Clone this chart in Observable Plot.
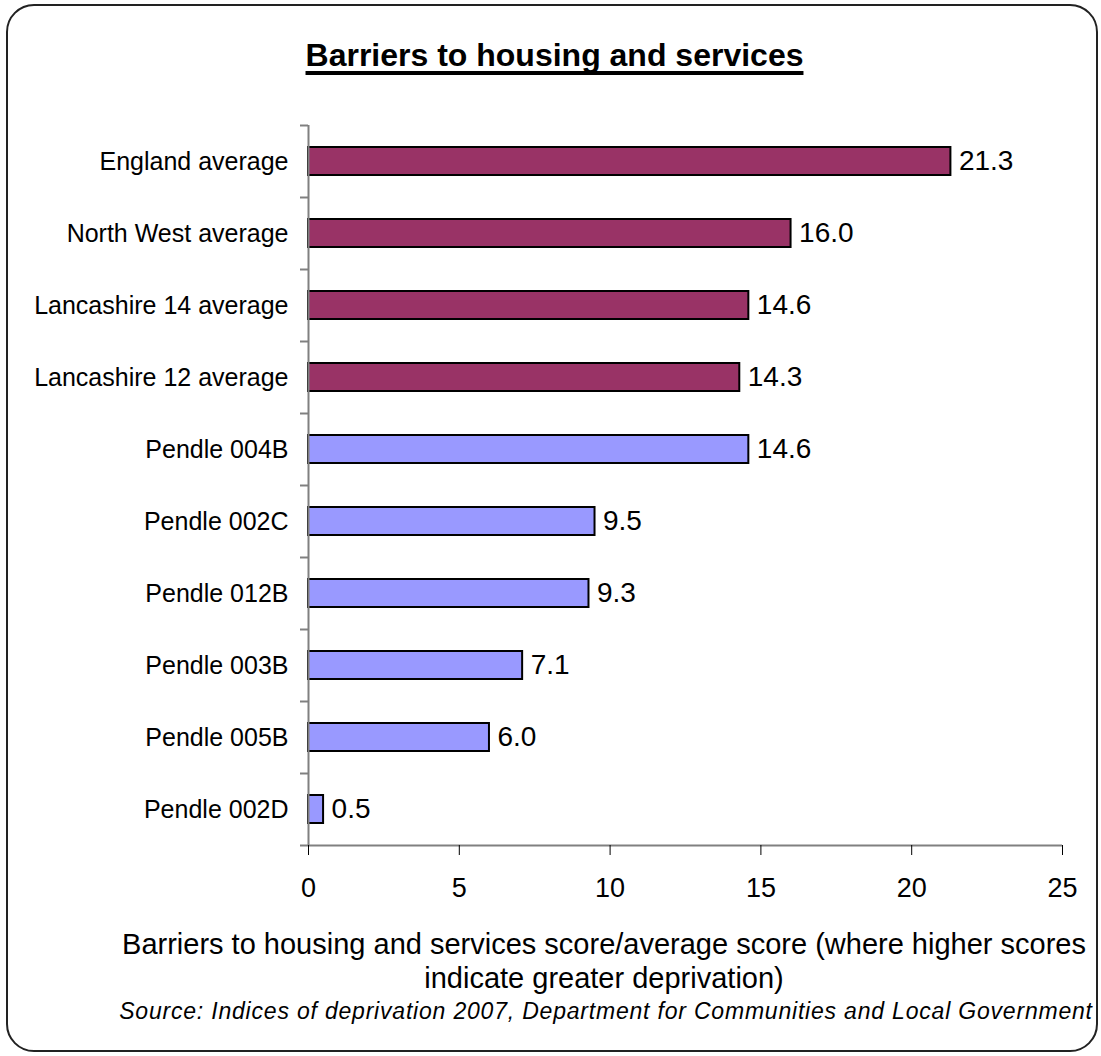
<!DOCTYPE html>
<html>
<head>
<meta charset="utf-8">
<script src="https://cdn.jsdelivr.net/npm/d3@7"></script>
<script src="https://cdn.jsdelivr.net/npm/@observablehq/plot@0.6"></script>
<style>
  html, body { margin: 0; padding: 0; background: #fff; }
  #wrap { position: relative; width: 1101px; height: 1056px; overflow: hidden; font-family: "Liberation Sans", Arial, sans-serif; color: #000; }
  #border { position: absolute; left: 6px; top: 4px; width: 1092px; height: 1048px; box-sizing: border-box; border: 2px solid #222; border-radius: 28px; }
  #title { position: absolute; left: 4px; width: 1101px; top: 39px; text-align: center; font-size: 32px; line-height: 32px; font-weight: bold; text-decoration: underline; text-decoration-thickness: 3.5px; text-underline-offset: 5px; text-decoration-skip-ink: none; }
  #chart { position: absolute; left: 0; top: 0; }
  #xlabel { position: absolute; left: 54px; width: 1100px; top: 927px; text-align: center; font-size: 29px; line-height: 34px; }
  #source { position: absolute; left: 56px; width: 1100px; top: 999px; text-align: center; font-size: 23px; line-height: 24px; font-style: italic; letter-spacing: 0.8px; }
</style>
</head>
<body>
<div id="wrap">
  <div id="border"></div>
  <div id="title">Barriers to housing and services</div>
  <div id="chart"></div>
  <div id="xlabel">Barriers to housing and services score/average score (where higher scores<br>indicate greater deprivation)</div>
  <div id="source">Source: Indices of deprivation 2007, Department for Communities and Local Government</div>
</div>
<script>
const categories = ["England average", "North West average", "Lancashire 14 average", "Lancashire 12 average", "Pendle 004B", "Pendle 002C", "Pendle 012B", "Pendle 003B", "Pendle 005B", "Pendle 002D"];
const values = [21.3, 16.0, 14.6, 14.3, 14.6, 9.5, 9.3, 7.1, 6.0, 0.5];
const groups = ["average", "average", "average", "average", "area", "area", "area", "area", "area", "area"];
const xTicks = [0, 5, 10, 15, 20, 25];

const data = categories.map((c, i) => ({category: c, value: values[i], group: groups[i]}));

const W = 1101, H = 910, mT = 125, mB = 65, mL = 308, mR = 39;
const step = (H - mT - mB) / categories.length;

const chart = Plot.plot({
  width: W,
  height: H,
  marginTop: mT,
  marginBottom: mB,
  marginLeft: mL,
  marginRight: mR,
  style: {fontFamily: "'Liberation Sans', Arial, sans-serif", color: "#000", background: "transparent"},
  x: {domain: [0, 25]},
  y: {domain: categories, paddingInner: 0.61, paddingOuter: 0.305},
  color: {domain: ["average", "area"], range: ["#993366", "#9999FF"]},
  marks: [
    Plot.barX(data, {x: "value", y: "category", fill: "group", stroke: "#000", strokeWidth: 2}),
    Plot.ruleX([0], {stroke: "#808080", strokeWidth: 2}),
    Plot.ruleY(data, {y: "category", x1: 0, x2: 0, insetLeft: -8, dy: -step / 2, stroke: "#808080", strokeWidth: 2}),
    Plot.ruleY([data[data.length - 1]], {y: "category", x1: 0, x2: 25, insetLeft: -8, dy: step / 2, stroke: "#808080", strokeWidth: 2}),
    Plot.text(data, {x: "value", y: "category", text: d => d.value.toFixed(1), textAnchor: "start", dx: 8, fontSize: 28, fill: "#000"}),
    Plot.axisX({ticks: xTicks, tickSize: 10, tickPadding: 22, fontSize: 27, label: null, stroke: "#000"}),
    Plot.axisY({tickSize: 0, tickPadding: 20, fontSize: 25, label: null})
  ]
});
document.getElementById("chart").appendChild(chart);
</script>
</body>
</html>
